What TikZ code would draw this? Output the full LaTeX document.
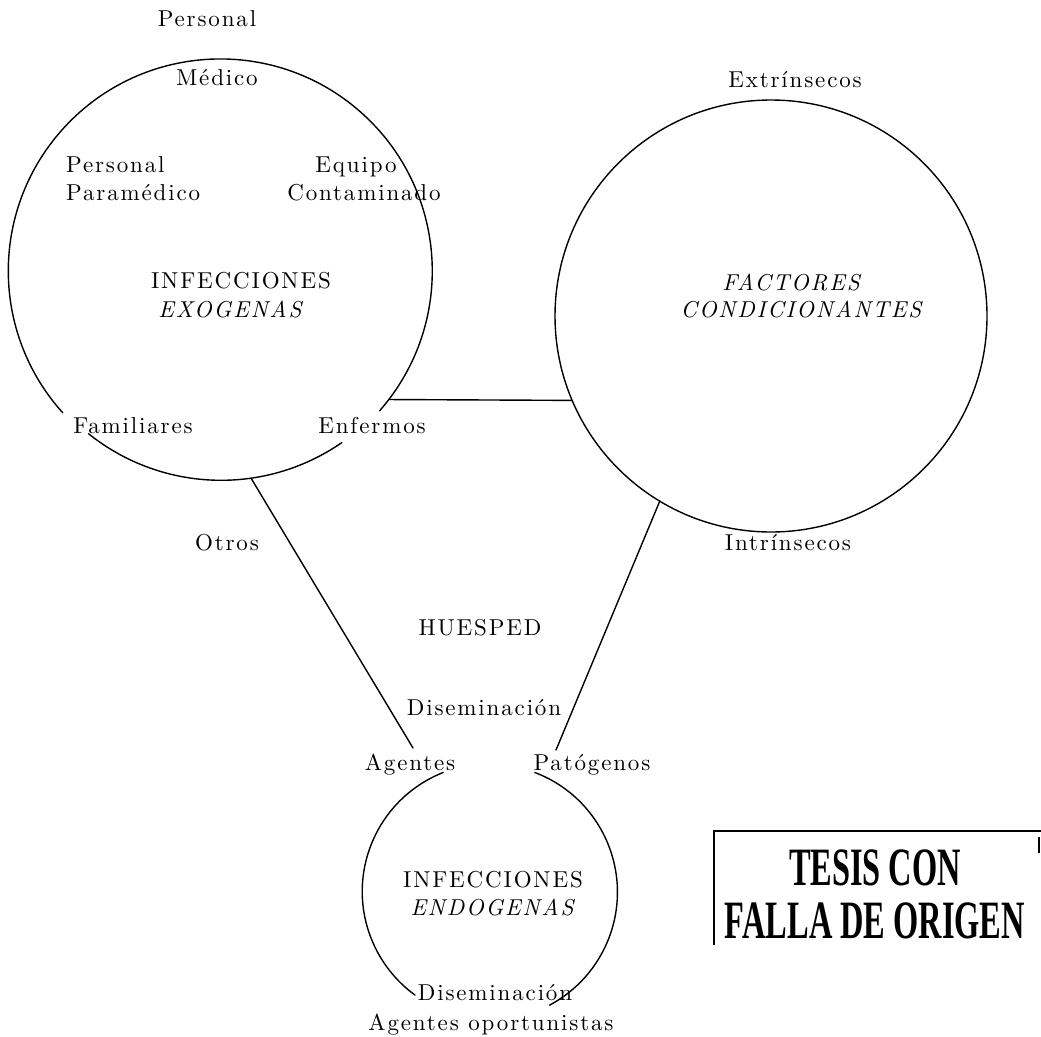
\documentclass[tikz,border=0pt]{standalone}
\usepackage{fontspec}
\newfontfamily\stampfont{Liberation Serif}[FakeStretch=0.6]
\newfontfamily\diagfont{lmroman10}[Extension=.otf, UprightFont=*-regular, ItalicFont=*-italic, BoldFont=*-bold, LetterSpace=8]
\newcommand\diaglblfont{\diagfont\fontsize{23}{27}\selectfont}
\begin{document}
\begin{tikzpicture}[x=1pt,y=1pt,
  lbl/.style={inner sep=0pt, anchor=base, font=\diaglblfont},
  lblit/.style={lbl, font=\diaglblfont\itshape},
  ring/.style={circle, inner sep=0pt, outer sep=0pt},
  edge/.style={line width=1.4pt, line cap=round},
  stampline/.style={line width=2.2pt},
  stamptxt/.style={inner sep=0pt, anchor=base, font=\stampfont\bfseries\fontsize{54}{58}\selectfont},
]
\useasboundingbox (0,0) rectangle (1041,-1036);

% circles (named)
\node[ring, minimum size=424pt] (exo) at (222,-269) {};
\node[ring, draw, edge, minimum size=432pt] (fac) at (771,-316) {};
\node[ring, minimum size=256pt] (endo) at (489,-892) {};

% arcs with gaps
\draw[edge] (exo.318.7) arc[start angle=318.7, end angle=582, radius=212pt];
\draw[edge] (exo.231.3) arc[start angle=231.3, end angle=304.7, radius=212pt];
\draw[edge] (endo.111.6) arc[start angle=111.6, end angle=234, radius=128pt];
\draw[edge] (endo.69.2) arc[start angle=69.2, end angle=-62, radius=128pt];

% connectors
\coordinate (agtop) at (413,-748);
\coordinate (patop) at (556,-750);
\draw[edge] (exo.-38.5) -- (fac.203.2);
\draw[edge] (exo.-82.5) -- (agtop);
\draw[edge] (fac.239.8) -- (patop);

% labels: exogenous circle
\node[lbl] (pers1) at (207,-27) {Personal};
\node[lbl] (medico) at (217,-85) {Médico};
\node[lbl, anchor=base west] (pers2) at (66,-172) {Personal};
\node[lbl, anchor=base west] (param) at (66,-200) {Paramédico};
\node[lbl] (equipo) at (356,-172) {Equipo};
\node[lbl] (contam) at (364,-200) {Contaminado};
\node[lbl] (infexo) at (241,-288) {INFECCIONES};
\node[lblit] (exog) at (230,-317) {EXOGENAS};
\node[lbl] (famil) at (133,-433) {Familiares};
\node[lbl] (enferm) at (372,-433) {Enfermos};

% labels: factores
\node[lbl] (extr) at (795,-87) {Extrínsecos};
\node[lblit] (factores) at (791,-290) {FACTORES};
\node[lblit] (condic) at (801,-317) {CONDICIONANTES};
\node[lbl] (intr) at (788,-550) {Intrínsecos};

% labels: middle
\node[lbl] (otros) at (227,-550) {Otros};
\node[lbl] (huesped) at (480,-635) {HUESPED};
\node[lbl] (disem1) at (484,-715) {Diseminación};
\node[lbl] (agentes) at (410,-770) {Agentes};
\node[lbl] (patog) at (592,-770) {Patógenos};

% labels: endogenous circle
\node[lbl] (infendo) at (493,-887) {INFECCIONES};
\node[lblit] (endog) at (492,-915) {ENDOGENAS};
\node[lbl] (disem2) at (495,-1000) {Diseminación};
\node[lbl] (oport) at (491,-1030) {Agentes oportunistas};

% stamp
\draw[stampline] (714,-945) -- (714,-831) -- (1041,-831);
\draw[stampline] (1039,-837) -- (1039,-853);
\node[stamptxt] (tesis) at (875,-885) {TESIS CON};
\node[stamptxt] (falla) at (875,-938) {FALLA DE ORIGEN};
\end{tikzpicture}
\end{document}
